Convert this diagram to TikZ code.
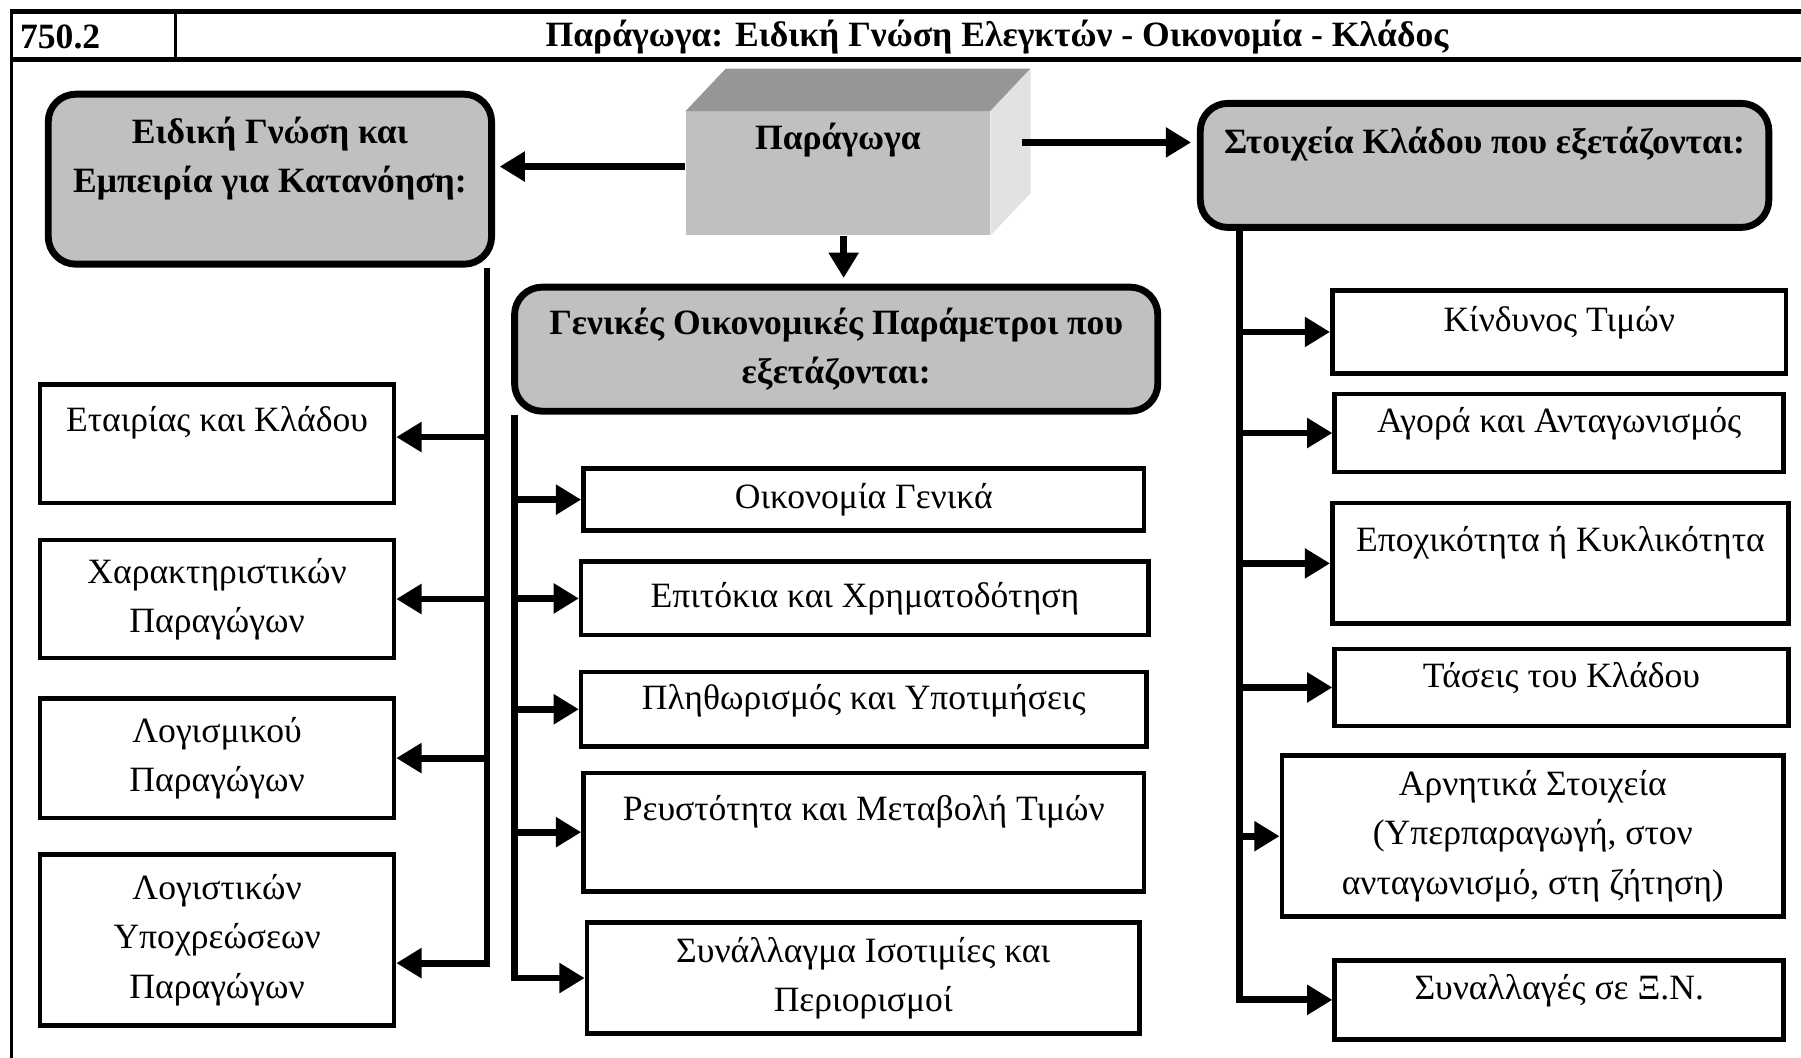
\documentclass[tikz,border=0pt]{standalone}
\usepackage{fontspec}
\setmainfont{Liberation Serif}
\usetikzlibrary{arrows.meta,positioning}
\definecolor{boxgray}{RGB}{192,192,192}
\definecolor{topgray}{RGB}{150,150,150}
\definecolor{sidegray}{RGB}{226,226,226}

\begin{document}
\begin{tikzpicture}[x=1pt,y=-1pt,
    every node/.style={font=\fontsize{31}{43}\selectfont, align=center},
    head/.style={draw, line width=6pt, fill=boxgray, rounded corners=24pt, inner sep=0pt,
        font=\fontsize{31}{43}\selectfont\bfseries},
    item/.style={draw, line width=4pt, fill=white, inner sep=0pt},
    raised/.style={text depth=22pt},
    arr/.style={line width=6pt, -{Triangle[length=22pt,width=25pt]}},
    frame/.style={line width=4pt}]
    \useasboundingbox (0,0) rectangle (1568,921);

    % Page frame and header row
    \draw[frame] (10,10) -- (1568,10);
    \draw[frame] (10,52) -- (1568,52);
    \draw[line width=3pt] (10,8) -- (10,921);
    \draw[line width=3pt] (153,10) -- (153,52);
    \node[anchor=west, font=\fontsize{31}{43}\selectfont\bfseries] (code) at (14,32) {750.2};
    \node[font=\fontsize{31}{43}\selectfont\bfseries] (title) at (868,32)
        {Παράγωγα: Ειδική Γνώση Ελεγκτών - Οικονομία - Κλάδος};

    % Source block drawn as a box
    \node[fill=boxgray, inner sep=0pt, minimum width=265pt, minimum height=108pt, raised,
        font=\fontsize{31}{43}\selectfont\bfseries] (src) at (729.5,151) {Παράγωγα\\ ~};
    \fill[topgray] (src.north west) -- ++(35,-37) -- ([shift={(35,-37)}]src.north east)
        -- (src.north east) -- cycle;
    \fill[sidegray] (src.north east) -- ++(35,-37) -- ([shift={(35,-37)}]src.south east)
        -- (src.south east) -- cycle;

    % Group headings
    \node[head, minimum width=386pt, minimum height=148pt] (lhead) at (235,156)
        {Ειδική Γνώση και\\Εμπειρία για Κατανόηση:\\ ~};
    \node[head, minimum width=560pt, minimum height=108pt] (mhead) at (728,304)
        {Γενικές Οικονομικές Παράμετροι που\\εξετάζονται:};
    \node[head, minimum width=495pt, minimum height=108pt] (rhead) at (1292.5,144)
        {Στοιχεία Κλάδου που εξετάζονται:\\ ~};

    % Left column
    \node[item, minimum width=308pt, minimum height=103pt] (ka) at (189,386.5) {Εταιρίας και Κλάδου\\ ~};
    \node[item, minimum width=308pt, minimum height=103pt] (kb) at (189,521.5) {Χαρακτηριστικών\\Παραγώγων};
    \node[item, minimum width=308pt, minimum height=104pt] (kc) at (189,660) {Λογισμικού\\Παραγώγων};
    \node[item, minimum width=308pt, minimum height=149pt] (kd) at (189,818.5)
        {Λογιστικών\\Υποχρεώσεων\\Παραγώγων};

    % Middle column
    \node[item, minimum width=488pt, minimum height=54pt] (ma) at (752,435) {Οικονομία Γενικά};
    \node[item, minimum width=494pt, minimum height=64pt] (mb) at (753,521) {Επιτόκια και Χρηματοδότηση};
    \node[item, minimum width=492pt, minimum height=65pt, raised] (mc) at (752,617.5) {Πληθωρισμός και Υποτιμήσεις};
    \node[item, minimum width=488pt, minimum height=103pt] (md) at (752,724.5)
        {Ρευστότητα και Μεταβολή Τιμών\\ ~};
    \node[item, minimum width=481pt, minimum height=97pt] (me) at (751.5,851.5)
        {Συνάλλαγμα Ισοτιμίες και\\Περιορισμοί};

    % Right column
    \node[item, minimum width=395pt, minimum height=72pt, raised] (ra) at (1357.5,289) {Κίνδυνος Τιμών};
    \node[item, minimum width=391pt, minimum height=68pt, raised] (rb) at (1357.5,377) {Αγορά και Ανταγωνισμός};
    \node[item, minimum width=397pt, minimum height=105pt] (rc) at (1358.5,490.5)
        {Εποχικότητα ή Κυκλικότητα\\ ~};
    \node[item, minimum width=395pt, minimum height=67pt, raised] (rd) at (1359.5,598.5) {Τάσεις του Κλάδου};
    \node[item, minimum width=437pt, minimum height=140pt] (re) at (1334.5,728)
        {Αρνητικά Στοιχεία\\(Υπερπαραγωγή, στον\\ανταγωνισμό, στη ζήτηση)};
    \node[item, minimum width=391pt, minimum height=69pt, raised] (rf) at (1357.5,870.5) {Συναλλαγές σε Ξ.Ν.};

    % Arrows out of the source block
    \coordinate (sl) at ([yshift=6pt]src.west);
    \coordinate (sr) at ([xshift=28pt,yshift=27pt]src.east);
    \draw[arr, shorten >=4pt] (sl) -- (sl -| lhead.east);
    \draw[arr, shorten >=5pt] (sr) -- (sr -| rhead.west);
    \draw[arr, shorten >=5pt] ([xshift=5pt]src.south) -- ([xshift=5pt]src.south |- mhead.north);

    % Trunk lines and branches
    \coordinate (ltop) at ([xshift=-7pt]lhead.south east);
    \coordinate (mtop) at ([xshift=3pt]mhead.south west);
    \coordinate (rtop) at ([xshift=37pt]rhead.south west);
    \coordinate (kapt) at ([yshift=6pt]ka.east);
    \coordinate (kdpt) at ([yshift=-20pt]kd.east);

    \draw[arr] (ltop) |- (kdpt);
    \draw[arr] (ltop |- kapt) -- (kapt);
    \draw[arr] (ltop |- kb.east) -- (kb.east);
    \draw[arr] (ltop |- kc.east) -- (kc.east);

    \draw[arr] (mtop) |- (me.west);
    \draw[arr] (mtop |- ma.west) -- (ma.west);
    \draw[arr] (mtop |- mb.west) -- (mb.west);
    \draw[arr] (mtop |- mc.west) -- (mc.west);
    \draw[arr] (mtop |- md.west) -- (md.west);

    \draw[arr] (rtop) |- (rf.west);
    \draw[arr] (rtop |- ra.west) -- (ra.west);
    \draw[arr] (rtop |- rb.west) -- (rb.west);
    \draw[arr] (rtop |- rc.west) -- (rc.west);
    \draw[arr] (rtop |- rd.west) -- (rd.west);
    \draw[arr] (rtop |- re.west) -- (re.west);
\end{tikzpicture}
\end{document}
